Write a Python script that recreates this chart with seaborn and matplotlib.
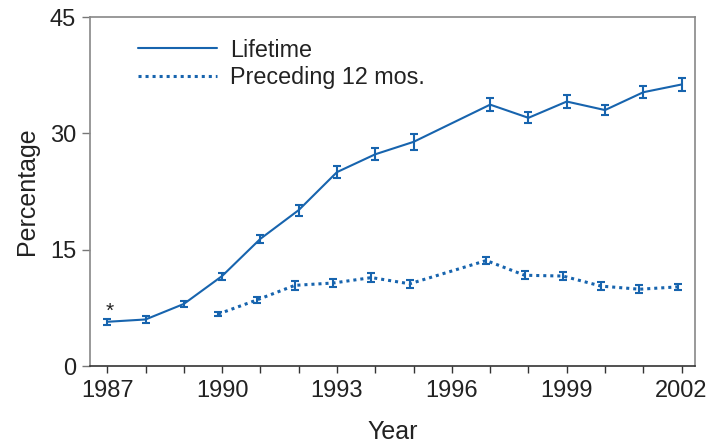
import matplotlib
matplotlib.use("Agg")
import matplotlib.pyplot as plt
import seaborn as sns
import pandas as pd
import numpy as np

# ---- data ----
life_years = [1987, 1988, 1989, 1990, 1991, 1992, 1993, 1994, 1995, 1997, 1998, 1999, 2000, 2001, 2002]
life_vals = [5.7, 6.0, 8.0, 11.6, 16.4, 20.1, 25.0, 27.3, 28.9, 33.7, 32.0, 34.1, 33.0, 35.3, 36.3]
life_err = [0.4, 0.4, 0.4, 0.45, 0.5, 0.7, 0.8, 0.8, 1.0, 0.8, 0.7, 0.8, 0.7, 0.8, 0.85]

prec_years = [1990, 1991, 1992, 1993, 1994, 1995, 1997, 1998, 1999, 2000, 2001, 2002]
prec_vals = [6.7, 8.5, 10.4, 10.7, 11.4, 10.6, 13.6, 11.7, 11.6, 10.3, 9.9, 10.2]
prec_err = [0.3, 0.4, 0.6, 0.5, 0.6, 0.5, 0.5, 0.5, 0.5, 0.5, 0.5, 0.4]

x_ticks = [1987, 1990, 1993, 1996, 1999, 2002]
y_ticks = [0, 15, 30, 45]

# ---- style ----
BLUE = "#1764ae"
DODGE = -0.1
sns.set_theme(style="ticks")
plt.rcParams["font.family"] = ["Liberation Sans", "DejaVu Sans"]

fig = plt.figure(figsize=(7.12, 4.44), dpi=100)
ax = fig.add_axes([90 / 712, 1 - 366 / 444, 605 / 712, 349 / 444])

life = pd.DataFrame({"Year": life_years, "Percentage": life_vals, "err": life_err})
prec = pd.DataFrame({"Year": np.array(prec_years) + DODGE, "Percentage": prec_vals, "err": prec_err})

sns.lineplot(data=life, x="Year", y="Percentage", ax=ax, color=BLUE, lw=1.5,
             label="Lifetime")
sns.lineplot(data=prec, x="Year", y="Percentage", ax=ax, color=BLUE, lw=2.2,
             linestyle=(0, (1.0, 1.3)), label="Preceding 12 mos.")

ax.errorbar(life["Year"], life["Percentage"], yerr=life["err"], fmt="none",
            ecolor=BLUE, elinewidth=1.5, capsize=2.6, capthick=1.5)
ax.errorbar(prec["Year"], prec["Percentage"], yerr=prec["err"], fmt="none",
            ecolor=BLUE, elinewidth=1.5, capsize=2.6, capthick=1.5)

ax.annotate("*", xy=(life_years[0], life_vals[0]), xytext=(2, 1),
            textcoords="offset points", ha="center", va="bottom",
            fontsize=15, color="#222222")

ax.set_xlim(1986.55, 2002.35)
ax.set_ylim(0, 45)
ax.set_xticks(range(1987, 2003))
ax.set_xticklabels([str(y) if y in x_ticks else "" for y in range(1987, 2003)])
ax.set_yticks(y_ticks)

ax.tick_params(axis="x", labelsize=17, colors="#222222", length=5, width=1,
               color="#333333", pad=5)
ax.tick_params(axis="y", labelsize=17, colors="#222222", length=6, width=1,
               color="#777777", pad=4)
ax.set_xlabel("Year", fontsize=18, color="#222222", labelpad=13)
ax.set_ylabel("Percentage", fontsize=18, color="#222222", labelpad=8)

for s in ["top", "right", "left"]:
    ax.spines[s].set_color("#888888")
    ax.spines[s].set_linewidth(1.2)
    ax.spines[s].set_visible(True)
ax.spines["bottom"].set_color("#333333")
ax.spines["bottom"].set_linewidth(1.2)

leg = ax.legend(loc="upper left", bbox_to_anchor=(0.052, 0.985), frameon=False,
                fontsize=16.8, handlelength=3.4, handletextpad=0.55,
                labelspacing=0.2, borderaxespad=0.3)
for t in leg.get_texts():
    t.set_color("#222222")

fig.savefig("out.png", dpi=100)
